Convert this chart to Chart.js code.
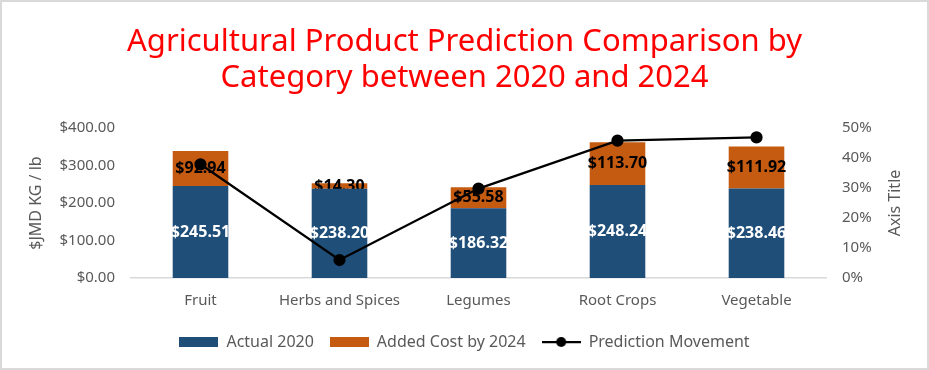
<!DOCTYPE html>
<html>
<head>
<meta charset="utf-8">
<script src="https://cdn.jsdelivr.net/npm/chart.js@4"></script>
<style>
  body { margin: 0; background: #fff; }
  #wrap { position: relative; width: 929px; height: 370px; }
  #frame { position: absolute; left: 0; top: 0; width: 929px; height: 370px; box-sizing: border-box; border: 2px solid #d9d9d9; pointer-events: none; }
</style>
</head>
<body>
<div id="wrap">
  <canvas id="chart" width="929" height="370"></canvas>
  <div id="frame"></div>
</div>
<script>
const categories = ['Fruit', 'Herbs and Spices', 'Legumes', 'Root Crops', 'Vegetable'];
const actual2020 = [245.51, 238.20, 186.32, 248.24, 238.46];
const addedBy2024 = [92.94, 14.30, 55.58, 113.70, 111.92];
const predictionMovement = [0.379, 0.060, 0.298, 0.458, 0.469];
const titleLines = ['Agricultural Product Prediction Comparison by', 'Category between 2020 and 2024'];

const FONT = '"Noto Sans", sans-serif';
const GREY = '#595959';
const BLUE = '#1f4e79';
const ORANGE = '#c55a11';

function makeIcon(w, h, draw) {
    const c = document.createElement('canvas');
    c.width = w;
    c.height = h;
    draw(c.getContext('2d'));
    return c;
}
const legendIcons = [
    makeIcon(39, 10, g => { g.fillStyle = BLUE; g.fillRect(0, 0, 39, 10); }),
    makeIcon(39, 10, g => { g.fillStyle = ORANGE; g.fillRect(0, 0, 39, 10); }),
    makeIcon(39, 12, g => {
        g.strokeStyle = '#000'; g.lineWidth = 2.25;
        g.beginPath(); g.moveTo(0, 6); g.lineTo(39, 6); g.stroke();
        g.fillStyle = '#000'; g.beginPath(); g.arc(19.5, 6, 5, 0, Math.PI * 2); g.fill();
    })
];

// value labels on the bar segments, drawn before the line so the line sits on top
const barLabels = {
    id: 'barLabels',
    afterDatasetDraw(chart, args) {
        if (args.meta.type !== 'bar') return;
        const ds = chart.data.datasets[args.index];
        const ctx = chart.ctx;
        ctx.save();
        ctx.font = 'bold 16px ' + FONT;
        ctx.fillStyle = ds.labelColor;
        ctx.textAlign = 'center';
        ctx.textBaseline = 'middle';
        args.meta.data.forEach((bar, i) => {
            ctx.fillText('$' + ds.data[i].toFixed(2), bar.x, (bar.y + bar.base) / 2);
        });
        ctx.restore();
    }
};

// right axis title reads bottom-to-top like the left one
const rightTitle = {
    id: 'rightTitle',
    afterDraw(chart) {
        const s = chart.scales.y1;
        const ctx = chart.ctx;
        ctx.save();
        ctx.translate(s.right - 34, (chart.chartArea.top + chart.chartArea.bottom) / 2);
        ctx.rotate(-Math.PI / 2);
        ctx.font = '16px ' + FONT;
        ctx.fillStyle = GREY;
        ctx.textAlign = 'center';
        ctx.textBaseline = 'middle';
        ctx.fillText('Axis Title', 0, 0);
        ctx.restore();
    }
};

new Chart(document.getElementById('chart'), {
    type: 'bar',
    data: {
        labels: categories,
        datasets: [
            {
                label: 'Actual 2020',
                data: actual2020,
                backgroundColor: BLUE,
                labelColor: '#fff',
                yAxisID: 'y',
                order: 1,
                categoryPercentage: 0.8,
                barPercentage: 0.5
            },
            {
                label: 'Added Cost by 2024',
                data: addedBy2024,
                backgroundColor: ORANGE,
                labelColor: '#000',
                yAxisID: 'y',
                order: 1,
                categoryPercentage: 0.8,
                barPercentage: 0.5
            },
            {
                type: 'line',
                label: 'Prediction Movement',
                data: predictionMovement,
                borderColor: '#000',
                backgroundColor: '#000',
                borderWidth: 2.25,
                pointRadius: 5,
                pointBackgroundColor: '#000',
                yAxisID: 'y1',
                order: 0
            }
        ]
    },
    options: {
        responsive: false,
        animation: false,
        layout: { padding: { left: 0, right: 0, top: 0, bottom: 10 } },
        plugins: {
            title: {
                display: true,
                text: titleLines,
                color: '#ff0000',
                font: { family: FONT, size: 31, weight: 'normal', lineHeight: '36px' },
                padding: { top: 24, bottom: 32 }
            },
            legend: {
                position: 'bottom',
                labels: {
                    color: GREY,
                    font: { family: FONT, size: 16 },
                    usePointStyle: true,
                    pointStyleWidth: 39,
                    padding: 16,
                    sort: (a, b) => a.datasetIndex - b.datasetIndex,
                    generateLabels(chart) {
                        const items = Chart.defaults.plugins.legend.labels.generateLabels(chart);
                        items.forEach(it => { it.pointStyle = legendIcons[it.datasetIndex]; });
                        return items;
                    }
                }
            },
            tooltip: { enabled: false }
        },
        scales: {
            x: {
                stacked: true,
                grid: { display: false, drawTicks: false },
                border: { color: '#d9d9d9', width: 1.5 },
                ticks: { color: GREY, font: { family: FONT, size: 15 }, padding: 14 },
                afterFit: s => { s.height = 40; }
            },
            y: {
                stacked: true,
                position: 'left',
                min: 0,
                max: 400,
                grid: { display: false, drawTicks: false },
                border: { display: false },
                ticks: {
                    stepSize: 100,
                    color: GREY,
                    font: { family: FONT, size: 15 },
                    padding: 16,
                    callback: v => '$' + v.toFixed(2)
                },
                title: {
                    display: true,
                    text: '$JMD KG / lb',
                    color: GREY,
                    font: { family: FONT, size: 16 },
                    padding: { top: 27, bottom: 0 }
                },
                afterFit: s => { s.width = 131; }
            },
            y1: {
                position: 'right',
                min: 0,
                max: 0.5,
                grid: { display: false, drawTicks: false },
                border: { display: false },
                ticks: {
                    stepSize: 0.1,
                    color: GREY,
                    font: { family: FONT, size: 15 },
                    padding: 16,
                    callback: v => Math.round(v * 100) + '%'
                },
                afterFit: s => { s.width = 103; }
            }
        }
    },
    plugins: [barLabels, rightTitle]
});
</script>
</body>
</html>
